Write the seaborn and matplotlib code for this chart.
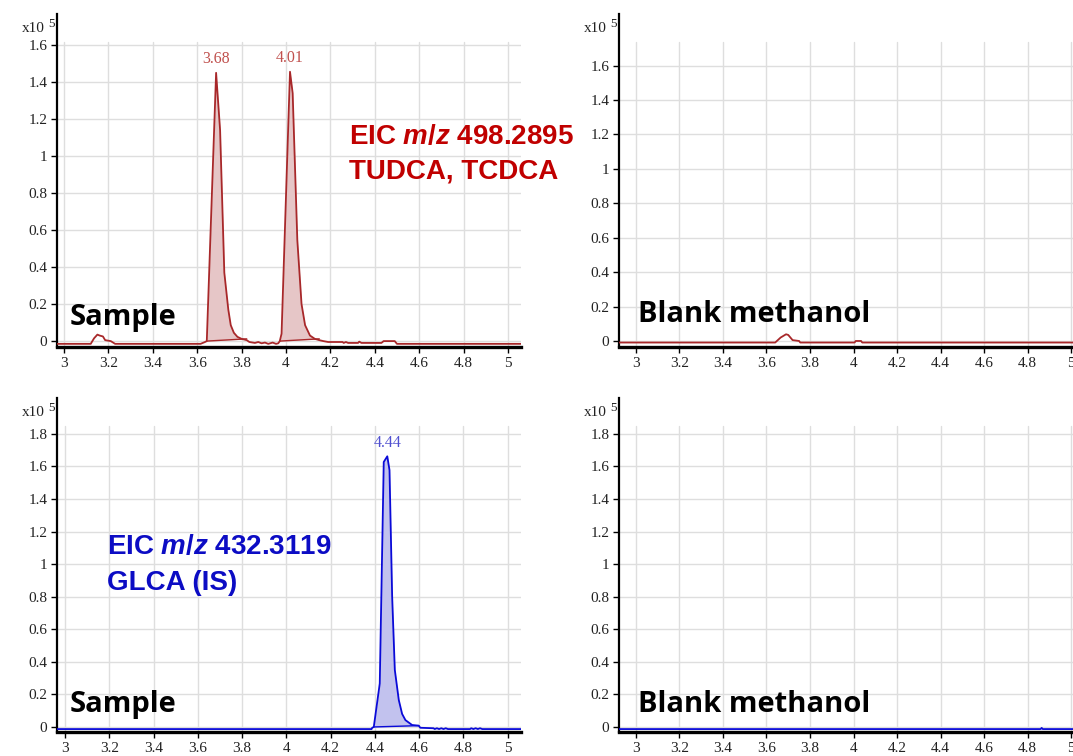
import numpy as np
import pandas as pd
import matplotlib
matplotlib.use("Agg")
import matplotlib.pyplot as plt
import seaborn as sns

# ---------------- data (intensity in x10^5) ----------------
red_sample_t = [2.97, 3.12, 3.135, 3.15, 3.16, 3.175, 3.185, 3.21, 3.23, 3.615, 3.635, 3.643,
                3.685, 3.703, 3.722, 3.74, 3.751, 3.765, 3.781, 3.80, 3.823, 3.835, 3.86, 3.875,
                3.89, 3.905, 3.92, 3.94, 3.955, 3.965, 3.972, 3.98, 4.018, 4.03, 4.051, 4.07,
                4.086, 4.108, 4.13, 4.15, 4.168, 4.19, 4.255, 4.26, 4.27, 4.28, 4.325, 4.33,
                4.34, 4.43, 4.44, 4.49, 4.50, 5.06]
red_sample_y = [-0.015, -0.015, 0.015, 0.035, 0.03, 0.025, 0.005, 0.0, -0.015, -0.015, -0.005, 0.0,
                1.45, 1.14, 0.37, 0.17, 0.086, 0.045, 0.023, 0.012, 0.005, -0.005, -0.01, -0.005,
                -0.012, -0.008, -0.015, -0.008, -0.015, -0.012, 0.0, 0.04, 1.456, 1.34, 0.546, 0.2,
                0.086, 0.03, 0.012, 0.005, 0.0, -0.005, -0.005, -0.01, -0.005, -0.01, -0.01, -0.003,
                -0.01, -0.01, 0.0, 0.0, -0.015, -0.015]
red_peak_labels = [3.68, 4.01]
red_peak_apex = [3.685, 4.018]
red_int_start = [(3.643, 0.0), (3.972, 0.0)]
red_int_end = [(3.823, 0.012), (4.15, 0.012)]

red_blank_t = [2.92, 3.64, 3.665, 3.69, 3.70, 3.72, 3.75, 3.755, 4.005, 4.01, 4.035, 4.04, 5.02]
red_blank_y = [-0.009, -0.009, 0.02, 0.039, 0.035, 0.005, 0.0, -0.009, -0.009, 0.0, 0.0, -0.009, -0.009]

blue_sample_t = [2.96, 4.385, 4.388, 4.395, 4.422, 4.44, 4.456, 4.466, 4.478, 4.49, 4.508, 4.523,
                 4.538, 4.568, 4.598, 4.605, 4.665, 4.67, 4.68, 4.69, 4.70, 4.71, 4.72, 4.73, 4.83,
                 4.835, 4.845, 4.855, 4.865, 4.875, 4.885, 4.89, 5.06]
blue_sample_y = [-0.013, -0.013, -0.005, 0.0, 0.267, 1.627, 1.662, 1.577, 0.80, 0.35, 0.165, 0.08,
                 0.042, 0.012, 0.008, -0.005, -0.008, -0.013, -0.008, -0.013, -0.008, -0.013, -0.008,
                 -0.013, -0.013, -0.008, -0.013, -0.008, -0.013, -0.008, -0.013, -0.013, -0.013]
blue_peak_labels = [4.44]
blue_peak_apex = [4.456]
blue_int_start = [(4.395, 0.0)]
blue_int_end = [(4.598, 0.008)]

blue_blank_t = [2.92, 4.86, 4.865, 4.87, 5.02]
blue_blank_y = [-0.013, -0.013, -0.006, -0.013, -0.013]

x_ticks = [3.0, 3.2, 3.4, 3.6, 3.8, 4.0, 4.2, 4.4, 4.6, 4.8, 5.0]
y_ticks_top = [0, 0.2, 0.4, 0.6, 0.8, 1.0, 1.2, 1.4, 1.6]
y_ticks_bot = [0, 0.2, 0.4, 0.6, 0.8, 1.0, 1.2, 1.4, 1.6, 1.8]

# ---------------- style ----------------
sns.set_theme(style="white")
plt.rcParams['font.family'] = ['Liberation Serif', 'DejaVu Serif']
plt.rcParams['mathtext.fontset'] = 'custom'
plt.rcParams['mathtext.it'] = 'Liberation Sans:italic:bold'
plt.rcParams['mathtext.rm'] = 'Liberation Sans:bold'
plt.rcParams['mathtext.bf'] = 'Liberation Sans:bold'

RED_LINE = '#a8282a'
RED_FILL = '#e6c6c7'
RED_LABEL = '#c0504d'
RED_TEXT = '#c00000'
BLUE_LINE = '#0a0ad8'
BLUE_FILL = '#c2c2ee'
BLUE_LABEL = '#5050d0'
BLUE_TEXT = '#0c0cc4'

W, H = 1073, 756
fig = plt.figure(figsize=(W / 100, H / 100), dpi=100)


def px_axes(left, top, right, bottom):
    return fig.add_axes([left / W, 1 - bottom / H, (right - left) / W, (bottom - top) / H])


ax_tl = px_axes(57, 14, 521, 347)
ax_tr = px_axes(619, 14, 1073, 347)
ax_bl = px_axes(57, 398, 521, 732)
ax_br = px_axes(619, 398, 1073, 732)


def style_axes(ax, xlim, ylim, yticks):
    ax.set_xlim(*xlim)
    ax.set_ylim(*ylim)
    ax.set_xticks(x_ticks)
    ax.set_yticks(yticks)
    ax.set_xticklabels([f"{v:g}" for v in x_ticks])
    ax.set_yticklabels([f"{v:g}" for v in yticks])
    for s in ['top', 'right']:
        ax.spines[s].set_visible(False)
    ax.spines['left'].set_color('black')
    ax.spines['left'].set_linewidth(1.6)
    ax.spines['bottom'].set_color('black')
    ax.spines['bottom'].set_linewidth(2.4)
    ax.tick_params(axis='both', which='major', direction='out', length=4, width=1.0,
                   color='black', labelsize=11, labelcolor='#222222', pad=3,
                   bottom=True, left=True)
    for lab in ax.get_xticklabels() + ax.get_yticklabels():
        lab.set_family(['Liberation Serif', 'DejaVu Serif'])
    for y in yticks:
        ax.axhline(y, color='#dedede', lw=1.0, zorder=0)
    for x in x_ticks:
        ax.axvline(x, ymin=0, ymax=0.915, color='#dedede', lw=1.0, zorder=0)
    ax.set_xlabel('')
    ax.set_ylabel('')
    ax.annotate('x10', xy=(0, 1), xycoords='axes fraction', xytext=(-12 * 0.72, -18 * 0.72),
                textcoords='offset points', ha='right', va='baseline', fontsize=11,
                color='#222222', annotation_clip=False)
    ax.annotate('5', xy=(0, 1), xycoords='axes fraction', xytext=(-8.5 * 0.72, -4 * 0.72),
                textcoords='offset points', ha='left', va='top', fontsize=9.5,
                color='#222222', annotation_clip=False)


def draw_trace(ax, t, y, line_color, fill_color, starts, ends, labels, apexes, label_color):
    df = pd.DataFrame({'t': t, 'y': y})
    sns.lineplot(data=df, x='t', y='y', ax=ax, color=line_color, lw=1.3, sort=True,
                 estimator=None, zorder=3)
    tt = np.array(t)
    yy = np.array(y)
    for (t0, y0), (t1, y1) in zip(starts, ends):
        grid = np.linspace(t0, t1, 400)
        curve = np.interp(grid, tt, yy)
        base = np.interp(grid, [t0, t1], [y0, y1])
        ax.fill_between(grid, base, np.maximum(curve, base), color=fill_color, lw=0, zorder=2)
        ax.plot([t0, t1], [y0, y1], color=line_color, lw=1.0, zorder=3)
    for lab, ap in zip(labels, apexes):
        top = np.interp(ap, tt, yy)
        ax.annotate(f"{lab:.2f}", xy=(ap, top), xytext=(0, 4), textcoords='offset points',
                    ha='center', va='bottom', fontsize=11.5, color=label_color)


style_axes(ax_tl, (2.968, 5.059), (-0.032, 1.768), y_ticks_top)
style_axes(ax_tr, (2.922, 5.009), (-0.035, 1.90), y_ticks_top)
style_axes(ax_bl, (2.964, 5.06), (-0.031, 2.02), y_ticks_bot)
style_axes(ax_br, (2.922, 5.009), (-0.031, 2.02), y_ticks_bot)

draw_trace(ax_tl, red_sample_t, red_sample_y, RED_LINE, RED_FILL, red_int_start, red_int_end,
           red_peak_labels, red_peak_apex, RED_LABEL)
draw_trace(ax_tr, red_blank_t, red_blank_y, RED_LINE, RED_FILL, [], [], [], [], RED_LABEL)
draw_trace(ax_bl, blue_sample_t, blue_sample_y, BLUE_LINE, BLUE_FILL, blue_int_start, blue_int_end,
           blue_peak_labels, blue_peak_apex, BLUE_LABEL)
draw_trace(ax_br, blue_blank_t, blue_blank_y, BLUE_LINE, BLUE_FILL, [], [], [], [], BLUE_LABEL)

for ax in [ax_tl, ax_tr, ax_bl, ax_br]:
    ax.set_xlabel('')
    ax.set_ylabel('')

big = dict(fontsize=21, fontweight='bold', family=['Open Sans', 'DejaVu Sans'], color='black',
           va='baseline', ha='left', zorder=5)
ax_tl.text(0.028, 0.066, 'Sample', transform=ax_tl.transAxes, **big)
ax_tr.text(0.042, 0.075, 'Blank methanol', transform=ax_tr.transAxes, **big)
ax_bl.text(0.028, 0.06, 'Sample', transform=ax_bl.transAxes, **big)
ax_br.text(0.042, 0.06, 'Blank methanol', transform=ax_br.transAxes, **big)

eic = dict(fontsize=20, fontweight='bold', family=['Liberation Sans', 'DejaVu Sans'],
           va='baseline', ha='left', zorder=5)
ax_tl.text((349 - 57) / 464, (347 - 144) / 333, r'EIC $m/z$ 498.2895', transform=ax_tl.transAxes,
           color=RED_TEXT, **eic)
ax_tl.text((349 - 57) / 464, (347 - 178) / 333, 'TUDCA, TCDCA', transform=ax_tl.transAxes,
           color=RED_TEXT, **eic)
ax_bl.text((107 - 57) / 464, (732 - 554) / 334, r'EIC $m/z$ 432.3119', transform=ax_bl.transAxes,
           color=BLUE_TEXT, **eic)
ax_bl.text((107 - 57) / 464, (732 - 590) / 334, 'GLCA (IS)', transform=ax_bl.transAxes,
           color=BLUE_TEXT, **eic)

fig.savefig('out.png', dpi=100)
